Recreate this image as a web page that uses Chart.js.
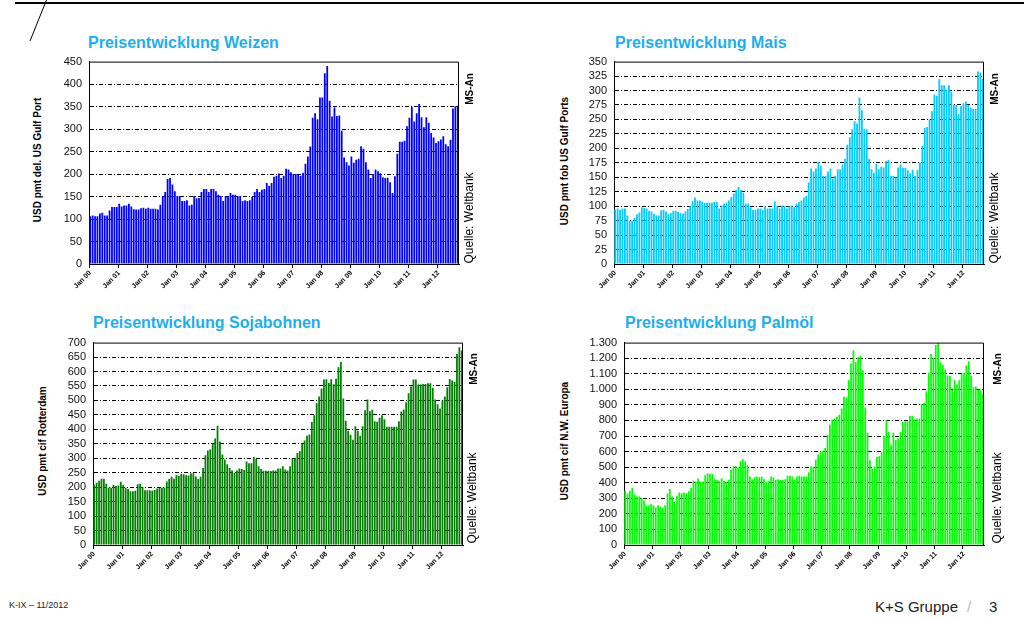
<!DOCTYPE html>
<html><head><meta charset="utf-8">
<script src="https://cdn.jsdelivr.net/npm/chart.js@4"></script>
<style>
html,body{margin:0;padding:0;background:#fff;}
body{width:1024px;height:619px;position:relative;overflow:hidden;font-family:"Liberation Sans",Arial,sans-serif;}
canvas{position:absolute;}
.t{position:absolute;font-weight:bold;font-size:16px;line-height:1;color:#1aaff0;white-space:nowrap;}
.rot{position:absolute;white-space:nowrap;line-height:1;transform:translate(-50%,-50%) rotate(-90deg);color:#000;}
.yt{font-weight:bold;font-size:10px;}
.ms{font-weight:bold;font-size:10px;}
.q{font-size:12px;}
.foot{position:absolute;white-space:nowrap;line-height:1;color:#222;}
</style></head><body>
<svg width="1024" height="50" style="position:absolute;left:0;top:0">
  <line x1="15" y1="3" x2="1024" y2="3" stroke="#000" stroke-width="2"/>
  <line x1="30" y1="41" x2="46.5" y2="0" stroke="#000" stroke-width="1"/>
</svg>

<div class="t" style="left:88px;top:35px">Preisentwicklung Weizen</div>
<div class="t" style="left:615px;top:35px">Preisentwicklung Mais</div>
<div class="t" style="left:93px;top:315px">Preisentwicklung Sojabohnen</div>
<div class="t" style="left:625px;top:315px">Preisentwicklung Palmöl</div>

<canvas id="c1" width="424" height="252" style="left:45px;top:48px"></canvas>
<canvas id="c2" width="424" height="252" style="left:570px;top:48px"></canvas>
<canvas id="c3" width="424" height="252" style="left:49px;top:329px"></canvas>
<canvas id="c4" width="424" height="252" style="left:570px;top:329px"></canvas>

<div class="rot yt" style="left:38px;top:160px">USD pmt del. US Gulf Port</div>
<div class="rot yt" style="left:565px;top:161px">USD pmt fob US Gulf Ports</div>
<div class="rot yt" style="left:43px;top:441px">USD pmt cif Rotterdam</div>
<div class="rot yt" style="left:565px;top:441px">USD pmt cif N.W. Europa</div>

<div class="rot ms" style="left:470px;top:89px">MS-An</div>
<div class="rot ms" style="left:995px;top:89px">MS-An</div>
<div class="rot ms" style="left:474px;top:369px">MS-An</div>
<div class="rot ms" style="left:998px;top:369px">MS-An</div>

<div class="rot q" style="left:469px;top:218px">Quelle: Weltbank</div>
<div class="rot q" style="left:994px;top:218px">Quelle: Weltbank</div>
<div class="rot q" style="left:472px;top:498px">Quelle: Weltbank</div>
<div class="rot q" style="left:997px;top:498px">Quelle: Weltbank</div>

<div class="foot" style="left:9px;top:601px;font-size:9px">K-IX – 11/2012</div>
<div class="foot" style="left:875px;top:599px;font-size:15px">K+S Gruppe</div>
<div class="foot" style="left:967px;top:599px;font-size:15px;color:#bbb">/</div>
<div class="foot" style="left:989px;top:599px;font-size:15px">3</div>

<script>
// ---- categories ----
const monthNames = ['Jan','Feb','Mar','Apr','May','Jun','Jul','Aug','Sep','Oct','Nov','Dec'];
const yearLabels = ['00','01','02','03','04','05','06','07','08','09','10','11','12'];

// ---- series values (USD per metric ton), Jan 2000 .. Sep 2012 ----
const weizen = [
  106,108,106,106,112,114,108,108,119,127,127,127,
  134,128,130,130,134,128,122,121,121,124,125,123,
  125,123,123,123,121,132,150,160,189,191,177,162,
  151,151,140,140,142,130,132,151,146,147,160,167,
  167,160,167,167,162,154,151,140,151,151,158,154,
  154,151,151,140,142,140,142,149,160,167,160,165,
  167,180,174,180,194,196,201,191,196,212,210,204,
  200,200,199,196,203,223,239,261,325,335,322,370,
  370,424,440,363,328,348,329,330,296,237,226,219,
  239,225,232,234,262,256,226,210,191,200,210,206,
  202,193,191,192,182,158,195,245,272,272,274,306,
  325,349,317,335,356,326,304,326,314,291,281,269,
  273,277,284,266,262,276,346,351,352
];
const mais = [
  94,96,94,96,96,84,75,75,80,86,89,98,
  97,96,92,91,87,84,84,93,94,91,86,88,
  92,92,90,88,87,91,95,100,109,115,110,110,
  108,106,106,106,106,107,107,96,101,104,106,110,
  116,122,128,133,128,123,104,104,98,94,94,96,
  96,94,100,96,96,96,108,100,96,101,100,96,
  100,101,98,104,107,110,115,118,141,165,160,165,
  177,170,152,152,160,165,147,152,164,164,172,182,
  206,219,233,247,243,288,266,234,233,182,164,158,
  173,164,168,167,178,180,152,152,150,167,172,166,
  166,162,157,163,152,163,175,204,235,237,250,264,
  293,291,320,309,309,301,309,298,275,275,259,273,
  278,281,275,270,268,268,333,331,320
];
const soja = [
  208,215,222,229,229,212,198,198,208,204,206,219,
  208,198,194,186,186,188,210,212,200,189,189,189,
  188,190,195,198,198,198,220,228,236,229,242,239,
  246,245,241,240,248,248,237,228,236,266,310,327,
  330,351,368,412,358,313,296,279,266,258,249,258,
  265,263,259,289,283,283,304,298,272,263,257,257,
  256,256,258,258,265,265,272,261,258,272,298,300,
  318,325,351,361,378,382,425,449,490,514,541,572,
  573,560,573,556,575,615,633,507,430,395,381,364,
  411,395,378,411,466,503,463,468,428,426,440,449,
  435,409,409,409,409,409,428,462,469,494,525,548,
  572,572,555,555,557,557,559,559,544,503,487,472,
  500,514,546,574,569,565,661,684,673
];
const palmoel = [
  349,330,349,368,326,311,311,303,286,255,255,261,
  255,242,255,248,240,255,330,360,311,276,316,337,
  332,337,332,347,368,412,408,427,404,408,448,461,
  456,456,427,419,412,429,412,404,419,482,505,507,
  494,538,551,538,513,440,423,435,440,435,440,423,
  406,410,440,435,417,423,417,417,423,444,444,440,
  423,440,444,440,440,440,467,505,505,549,581,602,
  606,623,707,774,806,812,822,837,877,953,949,1060,
  1165,1251,1176,1207,1216,1123,883,720,545,490,505,566,
  570,595,700,801,728,644,721,675,686,728,791,795,
  795,829,829,806,812,810,905,913,987,1106,1226,1201,
  1285,1296,1174,1157,1127,1089,1085,997,1058,1031,1058,1102,
  1106,1153,1180,1089,1014,1018,997,997,972
];

// ---- axis tick settings ----
const weizenTicks = {max:450, step:50};
const maisTicks = {max:350, step:25};
const sojaTicks = {max:700, step:50};
const palmTicks = {max:1300, step:100};

const categories = [];
yearLabels.forEach(y => monthNames.forEach(m => categories.push(m + ' ' + y)));
const cats = categories.slice(0, weizen.length);

const framePlugin = {
  id: 'frame',
  afterDatasetsDraw(chart) {
    const {ctx, chartArea: a} = chart;
    ctx.save();
    ctx.strokeStyle = '#000';
    ctx.lineWidth = 1;
    ctx.beginPath();
    ctx.moveTo(a.left, a.top + 0.5);
    ctx.lineTo(a.right - 0.5, a.top + 0.5);
    ctx.lineTo(a.right - 0.5, a.bottom);
    ctx.stroke();
    ctx.restore();
  }
};

function fmt(v) { return String(v).replace(/\B(?=(\d{3})+(?!\d))/g, '.'); }

function makeChart(id, values, color, tk, yWidth) {
  new Chart(document.getElementById(id), {
    type: 'bar',
    data: { labels: cats, datasets: [{ data: values, backgroundColor: color, borderWidth: 0,
      barPercentage: 0.74, categoryPercentage: 1.0 }] },
    options: {
      responsive: false, animation: false,
      layout: { padding: { top: 10, right: 10, left: 0, bottom: 0 } },
      plugins: { legend: { display: false }, tooltip: { enabled: false } },
      scales: {
        x: {
          type: 'category',
          grid: { display: true, drawOnChartArea: false, drawTicks: true, tickLength: 4,
            tickColor: c => (c.index % 12 === 0 ? '#000' : 'rgba(0,0,0,0)') },
          border: { display: true, color: '#000', width: 1 },
          ticks: { autoSkip: false, minRotation: 45, maxRotation: 45, padding: 1, color: '#000',
            font: { family: 'Liberation Sans, Arial', size: 7, weight: 'bold' },
            callback: (v, i) => (i % 12 === 0 ? cats[i] : '') },
          afterFit: s => { s.height = 36; }
        },
        y: {
          min: 0, max: tk.max,
          grid: { drawTicks: false, lineWidth: 1,
            color: c => (c.tick.value === 0 || c.tick.value === tk.max) ? 'rgba(0,0,0,0)' : '#000' },
          border: { display: true, color: '#000', width: 1, dash: [4, 2, 1, 2] },
          ticks: { stepSize: tk.step, autoSkip: false, padding: 7, color: '#111',
            font: { family: 'Liberation Sans, Arial', size: 11 },
            callback: v => fmt(v) },
          afterFit: s => { s.width = yWidth; }
        }
      }
    },
    plugins: [framePlugin]
  });
}

makeChart('c1', weizen, '#0000ff', weizenTicks, 44);
makeChart('c2', mais, '#00ccff', maisTicks, 44);
makeChart('c3', soja, '#008000', sojaTicks, 44);
makeChart('c4', palmoel, '#00ff00', palmTicks, 54);
</script>
</body></html>
